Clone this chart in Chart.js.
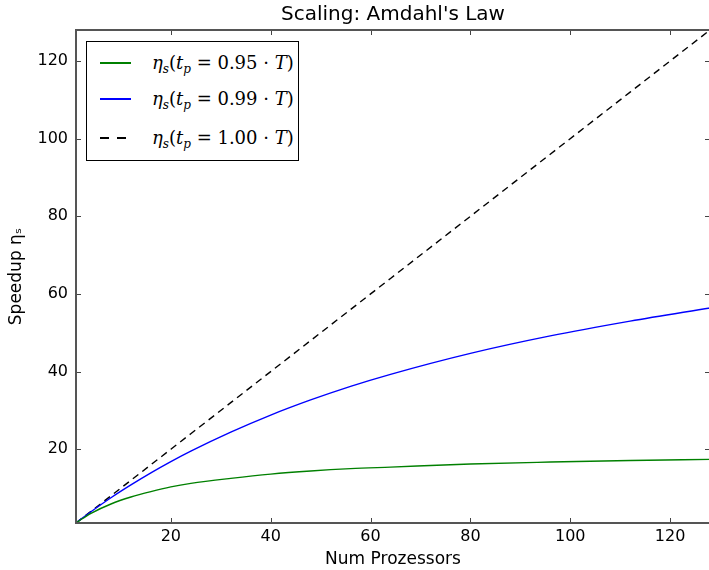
<!DOCTYPE html>
<html>
<head>
<meta charset="utf-8">
<script src="https://cdn.jsdelivr.net/npm/chart.js@4.4.7/dist/chart.umd.min.js"></script>
<style>
  html, body { margin: 0; padding: 0; background: #fff; overflow: hidden; }
  #wrap { position: relative; width: 716px; height: 570px; }
  #legend {
    position: absolute; left: 86px; top: 41px; width: 211px; height: 118px;
    border: 1.5px solid #000; background: #fff;
    font-family: "DejaVu Serif", serif; font-size: 18px; color: #000;
  }
  .row { position: absolute; left: 0; height: 24px; line-height: 24px; }
  .sample { position: absolute; left: 13px; width: 31px; top: 11px; height: 1.5px; }
  .label { position: absolute; left: 65px; white-space: nowrap; }
  .label i { font-style: italic; }
  .label sub { font-size: 12px; vertical-align: -4px; line-height: 0; }
</style>
</head>
<body>
<div id="wrap">
  <canvas id="chart" width="716" height="570"></canvas>
  <div id="legend"></div>
</div>
<script>
// ===== データ =====
const procs = [1, 2, 4, 8, 12, 16, 20, 24, 32, 40, 48, 56, 64, 80, 96, 112, 128];
const speedup95 = [1, 1.9, 3.5, 5.9, 7.7, 9.1, 10.3, 11.2, 12.5, 13.6, 14.4, 15.0, 15.4, 16.2, 16.7, 17.1, 17.4];
const speedup99 = [1, 2.0, 3.9, 7.5, 10.8, 13.9, 16.8, 19.5, 24.4, 28.8, 32.7, 36.2, 39.3, 44.7, 49.2, 53.0, 56.4];
const speedup100 = [1, 2, 4, 8, 12, 16, 20, 24, 32, 40, 48, 56, 64, 80, 96, 112, 128];
const xTicks = [20, 40, 60, 80, 100, 120];
const yTicks = [20, 40, 60, 80, 100, 120];
const seriesLabels = ['0.95', '0.99', '1.00'];

const toPoints = ys => procs.map((x, i) => ({ x: x, y: ys[i] }));

// ===== 枠線と内向きの目盛り =====
const framePlugin = {
  id: 'frame',
  afterDraw(chart) {
    const { ctx, chartArea: a, scales } = chart;
    ctx.save();
    ctx.strokeStyle = '#444';
    ctx.lineWidth = 1;
    ctx.beginPath();
    xTicks.forEach(v => {
      const px = Math.round(scales.x.getPixelForValue(v)) + 0.5;
      ctx.moveTo(px, a.bottom); ctx.lineTo(px, a.bottom - 5);
      ctx.moveTo(px, a.top); ctx.lineTo(px, a.top + 5);
    });
    yTicks.forEach(v => {
      const py = Math.round(scales.y.getPixelForValue(v)) + 0.5;
      ctx.moveTo(a.left, py); ctx.lineTo(a.left + 5, py);
      ctx.moveTo(a.right, py); ctx.lineTo(a.right - 5, py);
    });
    ctx.stroke();
    ctx.strokeStyle = '#555';
    ctx.lineWidth = 2;
    ctx.strokeRect(a.left, a.top, a.right - a.left, a.bottom - a.top);
    ctx.restore();
  }
};

const colors = ['#008000', '#0000ff', '#000000'];

function createChart() {
  const ctx = document.getElementById('chart').getContext('2d');
  new Chart(ctx, {
    type: 'line',
    data: {
      datasets: [
        { data: toPoints(speedup95), borderColor: colors[0], borderWidth: 1.4, pointRadius: 0, cubicInterpolationMode: 'monotone', fill: false },
        { data: toPoints(speedup99), borderColor: colors[1], borderWidth: 1.4, pointRadius: 0, cubicInterpolationMode: 'monotone', fill: false },
        { data: toPoints(speedup100), borderColor: colors[2], borderWidth: 1.4, borderDash: [7, 5], pointRadius: 0, fill: false }
      ]
    },
    options: {
      responsive: false,
      animation: false,
      devicePixelRatio: 1,
      layout: { padding: { left: 0, right: 6, top: 0, bottom: 0 } },
      plugins: {
        legend: { display: false },
        tooltip: { enabled: false },
        title: {
          display: true,
          fullSize: false,
          text: "Scaling: Amdahl's Law",
          color: '#000',
          font: { family: 'DejaVu Sans', size: 20, weight: 'normal', lineHeight: 1.2 },
          padding: { top: 3, bottom: 3 }
        }
      },
      scales: {
        x: {
          type: 'linear',
          min: 1, max: 128,
          grid: { display: false, drawTicks: false },
          border: { display: false },
          afterBuildTicks: s => { s.ticks = xTicks.map(v => ({ value: v })); },
          afterFit: s => { s.height = 47; },
          ticks: { color: '#000', padding: 4, maxRotation: 0, font: { family: 'DejaVu Sans', size: 16 } },
          title: { display: true, text: 'Num Prozessors', color: '#000', padding: 0, font: { family: 'DejaVu Sans', size: 17 } }
        },
        y: {
          type: 'linear',
          min: 1, max: 128,
          grid: { display: false, drawTicks: false },
          border: { display: false },
          afterBuildTicks: s => { s.ticks = yTicks.map(v => ({ value: v })); },
          afterFit: s => { s.width = 76; },
          ticks: { color: '#000', padding: 8, font: { family: 'DejaVu Sans', size: 16 } },
          title: { display: true, text: 'Speedup ηₛ', color: '#000', padding: { top: 6, bottom: 0 }, font: { family: 'DejaVu Sans', size: 17 } }
        }
      }
    },
    plugins: [framePlugin]
  });
}

// ===== 凡例（HTML） =====
function createLegend() {
  const box = document.getElementById('legend');
  const rowTops = [9, 45, 84];
  seriesLabels.forEach((p, i) => {
    const row = document.createElement('div');
    row.className = 'row';
    row.style.top = rowTops[i] + 'px';
    row.style.width = '100%';
    const sample = document.createElement('div');
    sample.className = 'sample';
    sample.style.background = i === 2
      ? 'repeating-linear-gradient(to right, #000 0 9px, transparent 9px 17px)'
      : colors[i];
    const label = document.createElement('div');
    label.className = 'label';
    label.innerHTML = '<i>η</i><sub><i>s</i></sub>(<i>t</i><sub><i>p</i></sub> = ' + p + ' · <i>T</i>)';
    row.appendChild(sample);
    row.appendChild(label);
    box.appendChild(row);
  });
}

createChart();
createLegend();
</script>
</body>
</html>
